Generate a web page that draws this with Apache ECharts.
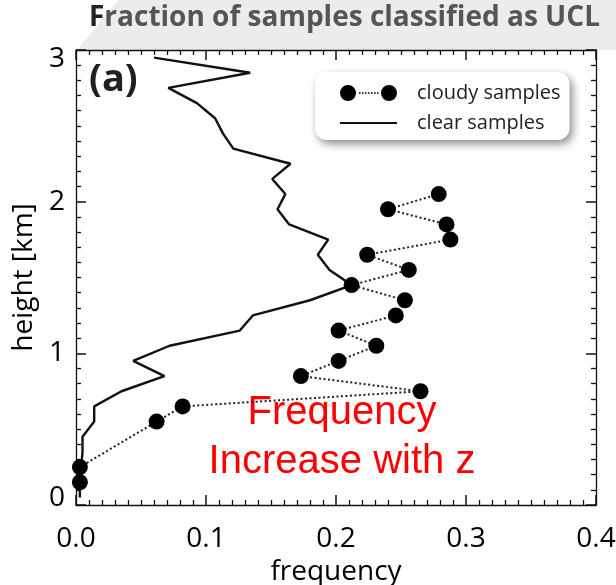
<!DOCTYPE html>
<html>
<head>
<meta charset="utf-8">
<script src="https://cdn.jsdelivr.net/npm/echarts@6/dist/echarts.min.js"></script>
<style>
  html, body { margin: 0; padding: 0; background: #fff; }
  #chart { width: 616px; height: 585px; }
</style>
</head>
<body>
<div id="chart"></div>
<script>
// clear samples, top of profile first
const clearHeights = [2.95, 2.85, 2.75, 2.65, 2.55, 2.45, 2.35, 2.25, 2.15, 2.05,
                      1.95, 1.85, 1.75, 1.65, 1.55, 1.45, 1.35, 1.25, 1.15, 1.05,
                      0.95, 0.85, 0.75, 0.65, 0.55, 0.45, 0.35, 0.25, 0.15, 0.05];
const clearFreq = [0.060, 0.134, 0.071, 0.093, 0.107, 0.113, 0.121, 0.165, 0.151, 0.161,
                   0.155, 0.164, 0.194, 0.186, 0.195, 0.212, 0.180, 0.136, 0.126, 0.072,
                   0.044, 0.068, 0.035, 0.014, 0.014, 0.005, 0.005, 0.004, 0.003, 0.003];

// cloudy samples
const cloudyHeights = [2.05, 1.95, 1.85, 1.75, 1.65, 1.55, 1.45, 1.35, 1.25, 1.15,
                       1.05, 0.95, 0.85, 0.75, 0.65, 0.55, 0.25, 0.15];
const cloudyFreq = [0.279, 0.240, 0.285, 0.288, 0.224, 0.256, 0.212, 0.253, 0.246, 0.202,
                    0.231, 0.202, 0.173, 0.265, 0.082, 0.062, 0.003, 0.003];

const xTicks = [0, 0.1, 0.2, 0.3, 0.4];
const yTicks = [0, 1, 2, 3];

const FONT = 'Open Sans';
const INK = '#111';

// dot ...... dot legend marker
const cloudyIcon = 'path://M0,8 A8,8 0 1,1 16,8 A8,8 0 1,1 0,8 Z ' +
  'M41,8 A8,8 0 1,1 57,8 A8,8 0 1,1 41,8 Z ' +
  'M19,7.2 h1.6 v1.6 h-1.6 Z M22,7.2 h1.6 v1.6 h-1.6 Z M25,7.2 h1.6 v1.6 h-1.6 Z ' +
  'M28,7.2 h1.6 v1.6 h-1.6 Z M31,7.2 h1.6 v1.6 h-1.6 Z M34,7.2 h1.6 v1.6 h-1.6 Z ' +
  'M37,7.2 h1.6 v1.6 h-1.6 Z';
const clearIcon = 'path://M0,7 h57 v2 h-57 Z';

// box frame: every side gets inward major + minor ticks
function frameAxis(extra) {
  return Object.assign({
    type: 'value',
    axisLine: { show: true, onZero: false, lineStyle: { color: INK, width: 1.3 } },
    axisTick: { show: true, inside: true, length: 10, lineStyle: { color: INK, width: 1.5 } },
    minorTick: { show: true, splitNumber: 10, length: 5, lineStyle: { color: INK, width: 1.3 } },
    splitLine: { show: false },
    minorSplitLine: { show: false }
  }, extra);
}

const chart = echarts.init(document.getElementById('chart'));

chart.setOption({
  backgroundColor: '#fff',
  animation: false,
  title: {
    text: '{f|F}raction of samples classified as UCL',
    left: 89,
    top: 4,
    padding: 0,
    textStyle: {
      fontFamily: FONT, fontSize: 28, fontWeight: 'bold', color: '#555',
      rich: { f: { fontFamily: FONT, fontSize: 28, fontWeight: 'bold', color: '#222' } }
    }
  },
  grid: { left: 76, right: 20, top: 50, bottom: 80, containLabel: false, outerBoundsMode: 'none' },
  legend: {
    orient: 'vertical',
    left: 315,
    top: 72,
    padding: [11, 9, 7, 25],
    itemGap: 10,
    itemWidth: 57,
    itemHeight: 16,
    selectedMode: false,
    backgroundColor: '#fff',
    borderRadius: 12,
    shadowBlur: 8,
    shadowColor: 'rgba(0,0,0,0.45)',
    shadowOffsetX: 3,
    shadowOffsetY: 4,
    textStyle: { fontFamily: FONT, fontSize: 20, color: '#222', padding: [0, 0, 0, 15] },
    data: [
      { name: 'cloudy samples', icon: cloudyIcon },
      { name: 'clear samples', icon: clearIcon }
    ]
  },
  xAxis: [
    frameAxis({
      position: 'bottom',
      min: xTicks[0], max: xTicks[xTicks.length - 1], interval: 0.1,
      axisLabel: {
        margin: 20, fontFamily: FONT, fontSize: 28, color: '#000',
        formatter: v => v.toFixed(1)
      },
      name: 'frequency',
      nameLocation: 'middle',
      nameGap: 52,
      nameTextStyle: { fontFamily: FONT, fontSize: 28, color: '#000' }
    }),
    frameAxis({
      position: 'top',
      min: xTicks[0], max: xTicks[xTicks.length - 1], interval: 0.1,
      axisLabel: { show: false }
    })
  ],
  yAxis: [
    frameAxis({
      position: 'left',
      min: yTicks[0], max: yTicks[yTicks.length - 1], interval: 1,
      axisLabel: {
        margin: 11, fontFamily: FONT, fontSize: 28, color: '#000',
        formatter: function (v) {
          if (v === 3) return '{hi|3}';
          if (v === 0) return '{lo|0}';
          return String(v);
        },
        rich: {
          hi: { fontFamily: FONT, fontSize: 28, color: '#000', padding: [18, 0, 0, 0] },
          lo: { fontFamily: FONT, fontSize: 28, color: '#000', padding: [0, 0, 14, 0] }
        }
      },
      name: 'height [km]',
      nameLocation: 'middle',
      nameGap: 36,
      nameTextStyle: { fontFamily: FONT, fontSize: 28, color: '#000' }
    }),
    frameAxis({
      position: 'right',
      min: yTicks[0], max: yTicks[yTicks.length - 1], interval: 1,
      axisLabel: { show: false }
    })
  ],
  graphic: [
    {
      type: 'polygon',
      silent: true,
      z: -10,
      shape: { points: [[77, 50], [118, 0], [616, 0], [616, 50]] },
      style: { fill: '#ececec' }
    },
    {
      type: 'text',
      silent: true,
      style: {
        text: '(a)', x: 89, y: 80,
        textAlign: 'left', textVerticalAlign: 'middle',
        fontFamily: FONT, fontSize: 38, fontWeight: 'bold', fill: '#231f20'
      }
    },
    {
      type: 'text',
      silent: true,
      style: {
        text: 'Frequency\nIncrease with z', x: 342, y: 437,
        textAlign: 'center', textVerticalAlign: 'middle',
        lineHeight: 49,
        fontFamily: 'Liberation Sans', fontSize: 40, fill: '#ff0000'
      }
    }
  ],
  series: [
    {
      name: 'clear samples',
      type: 'line',
      xAxisIndex: 0,
      yAxisIndex: 0,
      symbol: 'none',
      z: 2,
      lineStyle: { color: '#111', width: 2.4 },
      itemStyle: { color: '#111' },
      data: clearHeights.map((h, i) => [clearFreq[i], h])
    },
    {
      name: 'cloudy samples',
      type: 'line',
      xAxisIndex: 0,
      yAxisIndex: 0,
      symbol: 'circle',
      symbolSize: 16,
      z: 3,
      lineStyle: { color: '#222', width: 2, type: [2, 2.5] },
      itemStyle: { color: '#000' },
      data: cloudyHeights.map((h, i) => [cloudyFreq[i], h])
    }
  ]
});
</script>
</body>
</html>
